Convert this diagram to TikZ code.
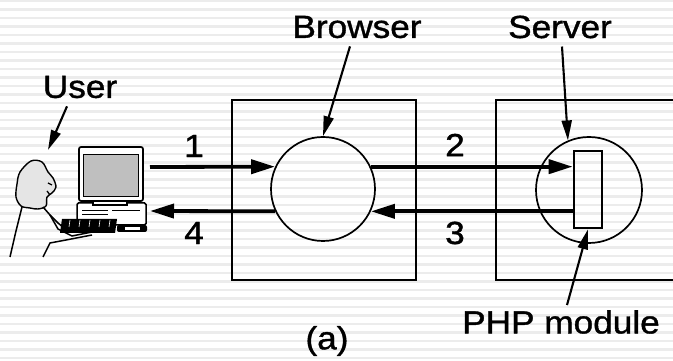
\documentclass[tikz,border=0pt]{standalone}
\usepackage{fontspec}
\setmainfont{Liberation Sans}[FakeStretch=1.1,FakeBold=1.2]
\usetikzlibrary{arrows.meta,calc}
\begin{document}
\begin{tikzpicture}[x=1pt,y=1pt,
  lbl/.style={inner sep=0pt,font=\fontsize{32}{38}\selectfont},
  boxline/.style={line width=2pt},
  proc/.style={circle,draw,line width=1.7pt,minimum size=104pt,inner sep=0pt},
  flow/.style={line width=3.8pt,-{Triangle[length=24pt,width=14pt]}},
  pointer/.style={line width=2.1pt,-{Triangle[length=20pt,width=10pt]}},
  stripe/.style={line width=2.4pt,gray!15}]
\useasboundingbox (0,0) rectangle (673,361);
\fill[white] (0,0) rectangle (673,361);
\foreach \i in {0,...,42} \draw[stripe] (0,360-\i*8.5) -- (673,360-\i*8.5);
% boxes
\node[draw,boxline,minimum width=184pt,minimum height=180pt,inner sep=0pt] (bbox) at (324,171) {};
\draw[boxline] (680,81) -- (496,81) -- (496,261) -- (680,261);
\node[proc] (bc) at (323,172) {};
\node[proc,minimum size=106pt] (sc) at (589,171) {};
\node[draw,line width=2.6pt,minimum width=28pt,minimum height=77pt,inner sep=0pt] (php) at (588,171.5) {};
% user end points
\coordinate (u1) at (150,194);
\coordinate (u4) at (150,150);
% flows
\draw[flow] (u1) -- (bc.155);
\draw[flow] (bc.25) -- (bc.25 -| php.west);
\draw[flow] (bc.335 -| php.west) -- (bc.335);
\draw[flow] (bc.205) -- (u4);
% numbers
\node[lbl] (n1) at (194,215) {1};
\node[lbl] (n4) at (194,128) {4};
\node[lbl] (n2) at (455,216) {2};
\node[lbl] (n3) at (455,128) {3};
% labels
\node[lbl] (lb) at (357,334) {Browser};
\node[lbl] (ls) at (560,334) {Server};
\node[lbl] (lp) at (561,39) {PHP module};
\node[lbl] (la) at (327,20) {(a)};
\node[lbl] (lu) at (80,274) {User};
\coordinate (pu) at (48,211);
\draw[pointer] ([xshift=-7pt,yshift=-8pt]lb.south) -- (bc.north);
\draw[pointer] ([xshift=2pt,yshift=-8pt]ls.south) -- (sc.113);
\draw[pointer] ([xshift=6pt,yshift=5pt]lp.north) -- (php.south);
\draw[pointer] ([xshift=-13pt,yshift=-8pt]lu.south) -- (pu);
% user figure
\draw[line width=1.4pt,fill=gray!20] plot[smooth cycle,tension=0.55] coordinates
  {(31,200) (42,199) (48,189) (53,183) (56,174) (52,168) (47,164) (46,155)
   (38,152) (30,153) (21,155) (16,164) (17,177) (20,189)};
\draw[line width=1.3pt] (48,178) -- (52,176) (47,170) -- (50,166);
\draw[line width=1.5pt] (22,154) -- (16,130) -- (10,104);
\draw[line width=1.5pt] (43,154) -- (50,146) -- (58,138) -- (64,133);
\draw[line width=1.5pt] (50,146) -- (58,132) -- (72,125) -- (92,129);
\draw[line width=1.5pt] (43,104) -- (50,118) -- (66,121) -- (92,126);
% computer
\draw[line width=1.5pt,fill=white,rounded corners=1.5pt] (77,136) rectangle (146,158);
\draw[line width=1pt] (82,150) -- (108,150) (82,146) -- (108,146) (112,150) -- (140,150);
\draw[line width=1.5pt,fill=white] (93,156) rectangle (127,161);
\draw[line width=1.7pt,fill=white,rounded corners=2pt] (79,160) rectangle (143,214);
\draw[line width=1pt,fill=gray!50] (83,164) rectangle (138,206);
\fill[black] (62,142) -- (117,142) -- (115,128) -- (60,128) -- cycle;
\foreach \k in {70,80,90,100,110} \draw[white,line width=0.6pt] (\k,141) -- (\k-1,134);
\fill[black,rounded corners=2pt] (117,136) -- (147,136) -- (147,129) -- (117,129) -- cycle;
\fill[white] (125,131) rectangle (140,134);
\end{tikzpicture}
\end{document}
